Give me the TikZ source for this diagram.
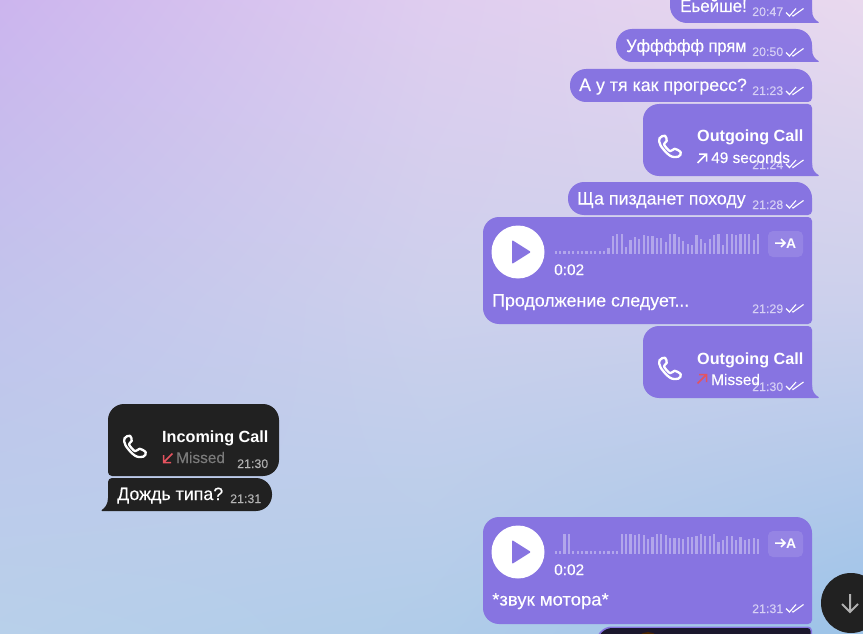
\documentclass[tikz,border=0pt]{standalone}
\usepackage{fontspec}
\setmainfont{Liberation Sans}
\newfontfamily\msgfont[FakeBold=0.25]{Liberation Sans}
\newfontfamily\stampfont[FakeBold=0.1]{Liberation Sans}
\usetikzlibrary{positioning,shadings}

\definecolor{bgA}{HTML}{CCB5EE}
\definecolor{bgB}{HTML}{DFCDEF}
\definecolor{bgC}{HTML}{E9D9EE}
\definecolor{bgD}{HTML}{C2C4EC}
\definecolor{bgE}{HTML}{CDD0EC}
\definecolor{bgF}{HTML}{CCD0EC}
\definecolor{bgG}{HTML}{B8D0EA}
\definecolor{bgH}{HTML}{B0CCE9}
\definecolor{bgI}{HTML}{9CC3E8}
\definecolor{msgout}{HTML}{8774E1}
\definecolor{msgin}{HTML}{212121}
\definecolor{missred}{HTML}{E5535F}

\tikzset{
  msgtext/.style={inner sep=0pt,anchor=base west,text=white,font=\msgfont\fontsize{17.8}{20}\selectfont},
  calltext/.style={msgtext,font=\fontsize{16.2}{18}\selectfont\bfseries},
  subtext/.style={msgtext,font=\msgfont\fontsize{15.4}{17}\selectfont},
  stamp/.style={inner sep=0pt,anchor=base west,text=white,text opacity=.6,font=\stampfont\fontsize{12.4}{14}\selectfont},
  transbtn/.style={fill=white,fill opacity=.12,rounded corners=5pt,minimum width=35pt,minimum height=26pt,inner sep=0pt},
  transtext/.style={inner sep=0pt,anchor=base west,text=white,font=\fontsize{14}{16}\selectfont\bfseries},
  playbtn/.style={circle,fill=white,minimum size=53pt,inner sep=0pt},
  wavebar/.style={white,opacity=.36,line width=2.2pt},
  checks/.pic={
    \draw[white,line width=1.1pt] (0,4) -- (3.5,7.5) -- (10,0);
    \draw[white,line width=1.1pt] (6.5,6.8) -- (7,7.5) -- (17.5,0);
  },
  phoneicon/.pic={
    \draw[white,line width=2.3pt,line join=round] plot[smooth cycle,tension=.6] coordinates
      {(-10.5,-7.7) (-5,-10.3) (-3.3,-5) (-6,-1.7) (0,5.2) (4.5,2.8) (10.7,6.3) (8.3,10.7) (0,9.7) (-9.3,-0.3)};
  },
  playicon/.pic={
    \fill[msgout,rounded corners=1pt] (-6,-12) -- (13,0) -- (-6,12) -- cycle;
  },
  arrowicon/.pic={
    \draw[line width=1.5pt] (-4.5,4.5) -- (4.5,-4.5) (-3,-4.5) -- (4.5,-4.5) -- (4.5,3);
  },
  transarrow/.pic={
    \draw[white,line width=1.5pt] (-5,0) -- (5,0) (1,-4) -- (5,0) -- (1,4);
  }
}

% x0 y0 x1 y1 and the four corners TL TR BR BL
\newcommand{\bubble}[9][msgout]{
  \fill[#1] ({#2+#6},#3) -- ({#4-#7},#3)
    .. controls ({#4-.45*#7},#3) and (#4,{#3+.45*#7}) .. (#4,{#3+#7})
    -- (#4,{#5-#8})
    .. controls (#4,{#5-.45*#8}) and ({#4-.45*#8},#5) .. ({#4-#8},#5)
    -- ({#2+#9},#5)
    .. controls ({#2+.45*#9},#5) and (#2,{#5-.45*#9}) .. (#2,{#5-#9})
    -- (#2,{#3+#6})
    .. controls (#2,{#3+.45*#6}) and ({#2+.45*#6},#3) .. ({#2+#6},#3) -- cycle;
}
\newcommand{\tailright}[2]{
  \fill[msgout] (#1,{#2-13}) .. controls (#1,{#2-6}) and ({#1+3},{#2-3}) .. ({#1+6.8},{#2-.8})
    -- ({#1+6},#2) -- (#1,#2) -- cycle;
}
\newcommand{\waves}[2]{
  \foreach \h [count=\i] in {#2}
    \draw[wavebar] ({555.7+(\i-1)*4.4},#1) -- ++(0,-\h);
}

\begin{document}
\begin{tikzpicture}[x=1pt,y=-1pt]
    \useasboundingbox (0,0) rectangle (863,634);
    \clip (0,0) rectangle (863,634);

    % background
    \shade[upper left=bgA,upper right=bgB,lower left=bgD,lower right=bgE] (0,0) rectangle (432,300);
    \shade[upper left=bgB,upper right=bgC,lower left=bgE,lower right=bgF] (431.5,0) rectangle (863,300);
    \shade[upper left=bgD,upper right=bgE,lower left=bgG,lower right=bgH] (0,299.5) rectangle (432,634);
    \shade[upper left=bgE,upper right=bgF,lower left=bgH,lower right=bgI] (431.5,299.5) rectangle (863,634);

    % outgoing
    \bubble{670}{-20}{812}{23}{17}{4}{0}{17}
    \tailright{812}{23}
    \bubble{616}{29}{812}{62}{16}{16}{0}{16}
    \tailright{812}{62}
    \bubble{570}{69}{812}{102}{16}{16}{4}{16}
    \bubble{643}{104}{812}{176}{16}{4}{0}{16}
    \tailright{812}{176}
    \bubble{568}{182}{812}{215}{16}{16}{4}{16}
    \bubble{483}{217}{812}{324}{16}{4}{4}{16}
    \bubble{643}{326}{812}{398}{16}{4}{0}{16}
    \tailright{812}{398}
    \bubble{483}{517}{812}{624}{16}{16}{4}{16}
    \bubble{596}{626.5}{812}{650}{16}{4}{4}{16}
    \bubble[black!80!msgout]{597.5}{628}{810.5}{650}{15}{3}{3}{15}
    \fill[black!70!orange] (648,645) circle (13);

    % incoming
    \bubble[msgin]{108}{404}{279}{476}{16}{16}{16}{4}
    \bubble[msgin]{108}{478}{272}{511}{4}{16}{16}{0}
    \fill[msgin] (108,498) .. controls (108,504) and (105,508) .. (101.5,510.2) -- (102,511) -- (108,511) -- cycle;

    % texts
    \node[msgtext] (m1) at (680,12) {\scalebox{.95}[1]{Еьейше!}};
    \node[stamp] (t1) at (752,16) {20:47};
    \pic at (786,8.5) {checks};
    \node[msgtext] (m2) at (626,52) {\scalebox{.92}[1]{Уффффф прям}};
    \node[stamp] (t2) at (752,56) {20:50};
    \pic at (786,48.5) {checks};
    \node[msgtext] (m3) at (579,91) {А у тя как прогресс?};
    \node[stamp] (t3) at (752,95) {21:23};
    \pic at (786,87) {checks};

    \pic at (670,146) {phoneicon};
    \node[calltext] (c1) at (697,142) {Outgoing Call};
    \pic[white] at (702,158.5) {arrowicon};
    \node[subtext] (c1sub) at (711,163) {49 seconds};
    \node[stamp] (t4) at (752,169) {21:24};
    \pic at (786,160) {checks};

    \node[msgtext] (m5) at (577,204.5) {Ща пизданет походу};
    \node[stamp] (t5) at (752,209) {21:28};
    \pic at (786,200.5) {checks};

    % first voice message
    \node[playbtn] (play1) at (518,252) {};
    \pic at (play1) {playicon};
    \waves{254}{3.5,3.5,3.5,3.5,3.5,3.5,3.5,3.5,3.5,3.5,3.5,3.5,5.7,18,20,20,7,14,17,15,19,18,18,16,16,12,20,20,17,13,10,9,19,15,11,15,19,20,9,20,20,19,20,20,20,14,20}
    \node[transbtn] (trans1) at (785.5,244) {};
    \pic at (780,243) {transarrow};
    \node[transtext] (tra1) at (786,248) {A};
    \node[subtext] (dur1) at (554,275) {0:02};
    \node[msgtext] (m6) at (492,306.5) {Продолжение следует...};
    \node[stamp] (t6) at (752,313) {21:29};
    \pic at (786,304.5) {checks};

    \pic at (670,368) {phoneicon};
    \node[calltext] (c2) at (697,364) {Outgoing Call};
    \pic[missred] at (702,379) {arrowicon};
    \node[subtext] (c2sub) at (711,385) {Missed};
    \node[stamp] (t7) at (752,391) {21:30};
    \pic at (786,382) {checks};

    \pic at (135,446) {phoneicon};
    \node[calltext] (c3) at (162,442) {Incoming Call};
    \pic[missred,rotate=180] at (168,458) {arrowicon};
    \node[subtext,text=white!40!msgin] (c3sub) at (176,463) {Missed};
    \node[stamp] (t8) at (237,468) {21:30};
    \node[msgtext] (m9) at (117,500) {Дождь типа?};
    \node[stamp] (t9) at (230,503) {21:31};

    % second voice message
    \node[playbtn] (play2) at (518,552) {};
    \pic at (play2) {playicon};
    \waves{554}{3.5,3.5,20,20,3.5,3.5,3.5,3.5,3.5,3.5,3.5,3.5,3.5,3.5,3.5,20,20,20,19,20,19,15,17,20,20,19,16,16,16,15,17,17,18,20,18,18,20,12,14,18,18,14,17,14,15,16,15}
    \node[transbtn] (trans2) at (785.5,544) {};
    \pic at (780,543) {transarrow};
    \node[transtext] (tra2) at (786,548) {A};
    \node[subtext] (dur2) at (554,575) {0:02};
    \node[msgtext] (m10) at (492,605.5) {\scalebox{1.04}[1]{*звук мотора*}};
    \node[stamp] (t10) at (752,613) {21:31};
    \pic at (786,604.5) {checks};

    % scroll down
    \node[circle,fill=msgin,minimum size=60pt,inner sep=0pt] (down) at (851,603) {};
    \draw[white!65!msgin,line width=2pt] (850,594) -- (850,612) (842,604) -- (850,612) -- (858,604);
\end{tikzpicture}
\end{document}
